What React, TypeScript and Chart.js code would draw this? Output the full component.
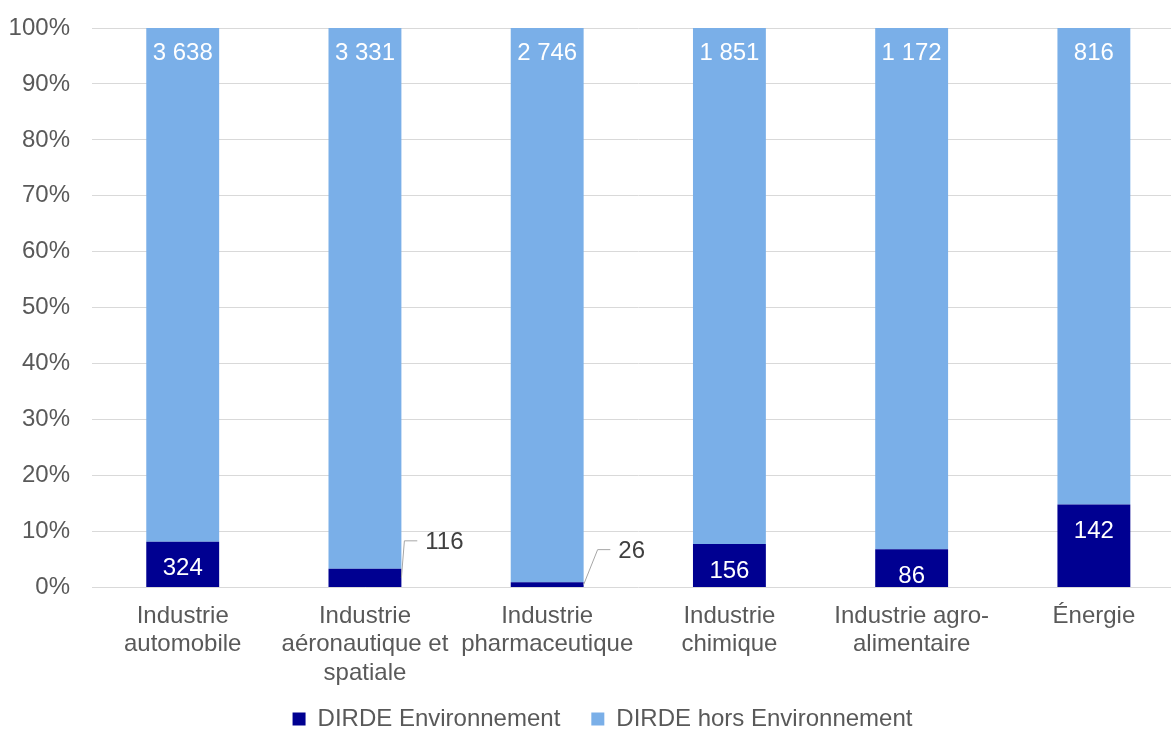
import React, { useEffect, useRef } from "react";
import { Chart, registerables } from "chart.js";

Chart.register(...registerables);

const categories: string[][] = [
  ["Industrie", "automobile"],
  ["Industrie", "aéronautique et", "spatiale"],
  ["Industrie", "pharmaceutique"],
  ["Industrie", "chimique"],
  ["Industrie agro-", "alimentaire"],
  ["Énergie"],
];
const seriesNames = ["DIRDE Environnement", "DIRDE hors Environnement"];
const envValues = [324, 116, 26, 156, 86, 142];
const horsValues = [3638, 3331, 2746, 1851, 1172, 816];
const yTicks = [0, 10, 20, 30, 40, 50, 60, 70, 80, 90, 100];

const DARK = "#000091";
const LIGHT = "#7AAFE8";
const TEXT = "#595959";
const FONT = '"Liberation Sans", Arial, sans-serif';

const totals = envValues.map((v, i) => v + horsValues[i]);
const envPct = envValues.map((v, i) => (v / totals[i]) * 100);
const horsPct = horsValues.map((v, i) => (v / totals[i]) * 100);

const fmt = (v: number) => String(v).replace(/\B(?=(\d{3})+(?!\d))/g, " ");

// style: labels placed outside with a leader line (by category index)
const outsideLabels: Record<number, { dx: number; dy: number; elbowDx: number }> = {
  1: { dx: 43, dy: -35, elbowDx: 3 },
  2: { dx: 48, dy: -33, elbowDx: 14 },
};

const labelPlugin = {
  id: "barLabels",
  afterLayout(chart: any) {
    // let axis labels use the whole canvas (avoid clipping)
    if (chart.scales.y) chart.scales.y.left = 0;
    if (chart.scales.x) chart.scales.x.bottom = chart.height;
  },
  afterDatasetsDraw(chart: any) {
    const ctx = chart.ctx;
    ctx.save();
    ctx.font = `24px ${FONT}`;
    ctx.textAlign = "center";
    ctx.textBaseline = "middle";
    const raw = [envValues, horsValues];
    chart.data.datasets.forEach((_ds: any, di: number) => {
      const meta = chart.getDatasetMeta(di);
      meta.data.forEach((bar: any, i: number) => {
        const { x, y, base, width } = bar.getProps(["x", "y", "base", "width"], true);
        const text = fmt(raw[di][i]);
        if (di === 0 && outsideLabels[i]) {
          const o = outsideLabels[i];
          const right = x + width / 2;
          const midY = (y + base) / 2;
          const lx = right + o.dx;
          const ly = midY + o.dy;
          const tw = ctx.measureText(text).width;
          ctx.strokeStyle = "#A6A6A6";
          ctx.lineWidth = 1;
          ctx.beginPath();
          ctx.moveTo(right, midY);
          ctx.lineTo(right + o.elbowDx, ly - 2);
          ctx.lineTo(lx - tw / 2 - 8, ly - 2);
          ctx.stroke();
          ctx.fillStyle = "#404040";
          ctx.fillText(text, lx, ly);
        } else {
          ctx.fillStyle = "#FFFFFF";
          ctx.fillText(text, x, y + (di === 0 ? 27 : 25));
        }
      });
    });
    ctx.restore();
  },
};

export default function App() {
  const ref = useRef<HTMLCanvasElement | null>(null);

  useEffect(() => {
    if (!ref.current) return;
    const chart = new Chart(ref.current, {
      type: "bar",
      data: {
        labels: categories,
        datasets: [
          {
            label: seriesNames[0],
            data: envPct,
            backgroundColor: DARK,
            borderWidth: 0,
            categoryPercentage: 0.4,
            barPercentage: 1,
          },
          {
            label: seriesNames[1],
            data: horsPct,
            backgroundColor: LIGHT,
            borderWidth: 0,
            categoryPercentage: 0.4,
            barPercentage: 1,
          },
        ],
      },
      options: {
        animation: false,
        responsive: false,
        devicePixelRatio: 1,
        layout: { padding: { top: 28, left: 20, right: 0, bottom: 0 } },
        plugins: {
          tooltip: { enabled: false },
          legend: {
            position: "bottom",
            maxHeight: 53,
            labels: {
              boxWidth: 13,
              boxHeight: 13,
              padding: 31,
              color: TEXT,
              font: { size: 24, family: FONT },
            },
          },
        },
        scales: {
          x: {
            stacked: true,
            grid: { display: false, drawTicks: false },
            border: { display: false },
            ticks: {
              color: TEXT,
              font: { size: 24, family: FONT, lineHeight: 1.2 },
              padding: 14,
              maxRotation: 0,
              autoSkip: false,
            },
            afterFit: (s: any) => {
              s.height = 88.5;
            },
          },
          y: {
            stacked: true,
            min: 0,
            max: 100,
            afterBuildTicks: (s: any) => {
              s.ticks = yTicks.map((v) => ({ value: v }));
            },
            grid: {
              color: "#D9D9D9",
              lineWidth: 1,
              drawTicks: true,
              tickLength: 21.6,
              tickColor: "rgba(0,0,0,0)",
            },
            border: { display: false },
            ticks: {
              color: TEXT,
              font: { size: 24, family: FONT, lineHeight: 1.2 },
              padding: 0,
              callback: (v: any) => `${v}%`,
            },
            afterFit: (s: any) => {
              s.width = 71.6;
            },
          },
        },
      },
      plugins: [labelPlugin],
    });
    return () => chart.destroy();
  }, []);

  return (
    <div
      style={{
        position: "fixed",
        left: 0,
        top: 0,
        width: 1171,
        height: 729,
        overflow: "hidden",
        background: "#fff",
      }}
    >
      <canvas ref={ref} width={1185} height={729} style={{ display: "block" }} />
    </div>
  );
}
